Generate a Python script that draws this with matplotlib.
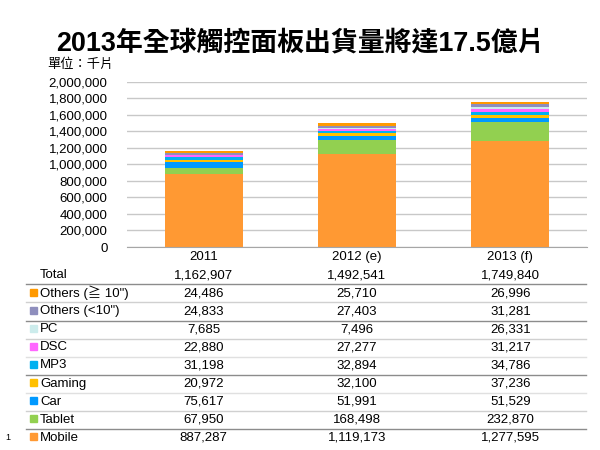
import matplotlib.pyplot as plt
import matplotlib.transforms as mtransforms
from matplotlib.patches import Rectangle
from matplotlib.ticker import FuncFormatter

plt.rcParams['font.family'] = ['Liberation Sans', 'Noto Sans CJK TC', 'DejaVu Sans']

# data (thousand pieces)
years = ['2011', '2012 (e)', '2013 (f)']
totals = [1162907, 1492541, 1749840]

# stacking order, bottom to top
series_names = ['Mobile', 'Tablet', 'Car', 'Gaming', 'MP3', 'DSC', 'PC',
                'Others (<10")', 'Others (\u2267 10")']
mobile = [887287, 1119173, 1277595]
tablet = [67950, 168498, 232870]
car = [75617, 51991, 51529]
gaming = [20972, 32100, 37236]
mp3 = [31198, 32894, 34786]
dsc = [22880, 27277, 31217]
pc = [7685, 7496, 26331]
others_small = [24833, 27403, 31281]
others_large = [24486, 25710, 26996]
series_values = [mobile, tablet, car, gaming, mp3, dsc, pc, others_small, others_large]
colors = ['#FF9933', '#92D050', '#0099FF', '#FFC000', '#00B0F0', '#FF66FF',
          '#CCECEC', '#8E8EBD', '#FF9900']

W, H = 600, 450
fig = plt.figure(figsize=(6, 4.5), dpi=100)
ax = fig.add_axes([127 / W, 1 - 247 / H, 460 / W, 165.5 / H])

x = list(range(len(years)))
bottom = [0] * len(years)
for name, vals, c in zip(series_names, series_values, colors):
    ax.bar(x, vals, width=0.51, bottom=bottom, color=c, label=name, zorder=2)
    bottom = [b + v for b, v in zip(bottom, vals)]

ax.set_xlim(-0.5, len(years) - 0.5)
ax.set_ylim(0, 2000000)
ax.set_yticks(range(0, 2000001, 200000))
ax.yaxis.set_major_formatter(FuncFormatter(lambda v, p: f'{int(v):,}'))
ax.tick_params(axis='y', length=0, labelsize=9.5, pad=14)
ax.set_xticks(x)
ax.set_xticklabels(years)
ax.tick_params(axis='x', length=0, labelsize=9.5, pad=3)
ax.grid(axis='y', color='#C8C8C8', linewidth=1, zorder=0)
for s in ['top', 'right', 'left']:
    ax.spines[s].set_visible(False)
ax.spines['bottom'].set_color('#A6A6A6')

fig.text(0.5, 1 - 43 / H, '2013年全球觸控面板出貨量將達17.5億片',
         ha='center', va='center', fontsize=19.4, fontweight='bold')
fig.text(113 / W, 1 - 65 / H, '單位：千片', ha='right', va='center', fontsize=9.5)

# data table under the chart
trans = mtransforms.blended_transform_factory(ax.transData, fig.transFigure)
rows = [('Total', None, totals)]
for name, vals, c in reversed(list(zip(series_names, series_values, colors))):
    rows.append((name, c, vals))

line_colors = ['#8C8C8C', '#D0D0D0', '#8C8C8C', '#D0D0D0', '#E0E0E0',
               '#8C8C8C', '#E0E0E0', '#D0D0D0', '#8C8C8C']
for i, (name, c, vals) in enumerate(rows):
    yc = 1 - (275 + 18.1 * i) / H
    fig.text(40 / W, yc, name, ha='left', va='center', fontsize=9.5)
    if c is not None:
        fig.patches.append(Rectangle((30 / W, yc - 2.5 / H), 7 / W, 7 / H,
                                     transform=fig.transFigure, color=c))
    for xi, v in zip(x, vals):
        ax.text(xi, yc, f'{v:,}', transform=trans, ha='center', va='center',
                fontsize=9.5, clip_on=False)
    if i < len(rows) - 1:
        yl = 1 - (275 + 18.1 * i + 9.3) / H
        fig.add_artist(plt.Line2D([26 / W, 586 / W], [yl, yl],
                                  transform=fig.transFigure,
                                  color=line_colors[i], linewidth=1))

fig.text(8 / W, 1 - 437 / H, '1', ha='center', va='center', fontsize=6.5)

fig.savefig('out.png', dpi=100)
